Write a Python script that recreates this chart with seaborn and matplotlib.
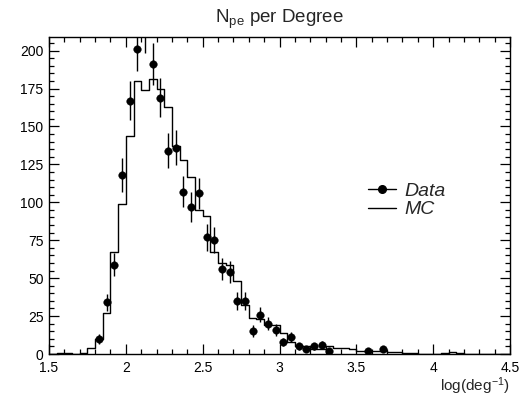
import numpy as np
import pandas as pd
import matplotlib
matplotlib.use("Agg")
import matplotlib.pyplot as plt
import seaborn as sns
from matplotlib.lines import Line2D
from matplotlib.ticker import MultipleLocator

# ---- data ----
data_x = [1.825, 1.875, 1.925, 1.975, 2.025, 2.075, 2.125, 2.175, 2.225, 2.275,
          2.325, 2.375, 2.425, 2.475, 2.525, 2.575, 2.625, 2.675, 2.725, 2.775,
          2.825, 2.875, 2.925, 2.975, 3.025, 3.075, 3.125, 3.175, 3.225, 3.275,
          3.325, 3.575, 3.675]
data_y = [10, 34, 59, 118, 167, 201, 213, 191, 169, 134,
          136, 107, 97, 106, 77, 75, 56, 54, 35, 35,
          15, 26, 20, 16, 8, 11, 5, 3, 5, 6,
          2, 2, 3]
data_err = [3.2, 5.8, 7.7, 10.9, 12.9, 14.2, 14.6, 13.8, 13.0, 11.6,
            11.7, 10.3, 9.8, 10.3, 8.8, 8.7, 7.5, 7.3, 5.9, 5.9,
            3.9, 5.1, 4.5, 4.0, 2.8, 3.3, 2.2, 1.7, 2.2, 2.4,
            1.4, 1.4, 1.7]

mc_left = [1.50, 1.55, 1.60, 1.65, 1.70, 1.75, 1.80, 1.85, 1.90, 1.95,
           2.00, 2.05, 2.10, 2.15, 2.20, 2.25, 2.30, 2.35, 2.40, 2.45,
           2.50, 2.55, 2.60, 2.65, 2.70, 2.75, 2.80, 2.85, 2.90, 2.95,
           3.00, 3.05, 3.10, 3.15, 3.20, 3.25, 3.30, 3.35, 3.40, 3.45,
           3.50, 3.55, 3.60, 3.65, 3.70, 3.75, 3.80, 3.85, 3.90, 3.95,
           4.00, 4.05, 4.10, 4.15, 4.20, 4.25, 4.30, 4.35, 4.40, 4.45]
mc_y = [0, 0.5, 0.5, 0, 0.5, 4, 10, 27, 67, 99,
        144, 180, 174, 181, 175, 163, 137, 128, 117, 95,
        91, 67, 60, 59, 48, 32, 24, 23, 19, 19,
        14, 8, 5, 5, 3, 3, 5, 4, 4, 3,
        2, 2, 2, 2, 1.5, 1, 0.5, 0.5, 0, 0,
        0, 0.5, 1, 0.5, 0, 0, 0, 0, 0, 0]
bin_width = 0.05

title = r"N$_{\mathrm{pe}}$ per Degree"
xlabel = r"log(deg$^{\mathrm{-1}}$)"
legend_labels = ["Data", "MC"]

# ---- style ----
sns.set_style("white")
plt.rcParams["font.family"] = ["Liberation Sans", "DejaVu Sans"]
plt.rcParams["mathtext.fontset"] = "custom"
plt.rcParams["mathtext.rm"] = "Liberation Sans"
plt.rcParams["mathtext.it"] = "Liberation Sans:italic"

fig = plt.figure(figsize=(5.21, 3.96), dpi=100)
ax = fig.add_axes([49 / 521, 1 - 354 / 396, 461 / 521, 317 / 396])

mc_df = pd.DataFrame({"x": np.array(mc_left) + bin_width / 2, "w": mc_y})
sns.histplot(data=mc_df, x="x", weights="w", binwidth=bin_width,
             binrange=(1.5, 4.5), element="step",
             fill=False, color="black", linewidth=1.0, ax=ax)

ax.errorbar(data_x, data_y, yerr=data_err, fmt="none", ecolor="black",
            elinewidth=1.0, capsize=0, zorder=3)
data_df = pd.DataFrame({"x": data_x, "y": data_y})
sns.scatterplot(data=data_df, x="x", y="y", color="black", s=30,
                edgecolor="black", linewidth=0.3, zorder=4, ax=ax)

ax.set_xlim(1.5, 4.5)
ax.set_ylim(0, 209)
ax.xaxis.set_major_locator(MultipleLocator(0.5))
ax.xaxis.set_minor_locator(MultipleLocator(0.1))
ax.yaxis.set_major_locator(MultipleLocator(25))
ax.yaxis.set_minor_locator(MultipleLocator(5))
ax.xaxis.set_major_formatter(matplotlib.ticker.FuncFormatter(
    lambda v, p: ("%g" % v)))
ax.tick_params(which="both", direction="in", top=True, right=True,
               bottom=True, left=True, colors="black", labelsize=10)
ax.tick_params(which="major", length=7, width=0.9)
ax.tick_params(which="minor", length=3.5, width=0.9)
ax.tick_params(axis="x", which="major", pad=5)
ax.tick_params(axis="y", which="major", pad=4)
for s in ax.spines.values():
    s.set_visible(True)
    s.set_color("black")
    s.set_linewidth(1.0)

ax.set_ylabel("")
ax.set_xlabel(xlabel, fontsize=11, loc="right", labelpad=0)
ax.set_title(title, fontsize=13.5, pad=10)

handles = [Line2D([0], [0], color="black", lw=1.0, marker="o", markersize=5.5),
           Line2D([0], [0], color="black", lw=1.0)]
leg = ax.legend(handles, legend_labels, loc="center left",
                bbox_to_anchor=(0.692, 0.485), frameon=False,
                prop={"style": "italic", "size": 14}, handlelength=1.45,
                handletextpad=0.4, labelspacing=0.05, borderpad=0,
                borderaxespad=0)

fig.savefig("out.png", dpi=100, facecolor="white")
